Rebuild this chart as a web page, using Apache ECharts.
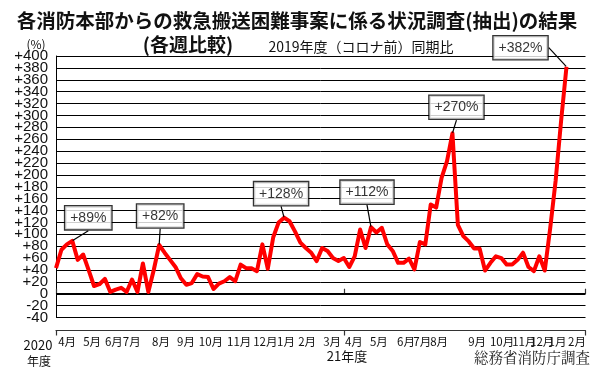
<!DOCTYPE html>
<html><head><meta charset="utf-8">
<script src="https://cdn.jsdelivr.net/npm/echarts@6/dist/echarts.min.js"></script>
<style>html,body{margin:0;padding:0;background:#fff}#c{width:600px;height:371px}</style>
</head><body><div id="c"></div>
<script>
// Weekly % change vs. same week of FY2019, from week 0 (early Apr 2020)
const weekValues = [
  43, 74, 83, 89, 57, 66, 40, 13, 16, 25,
  3, 7, 10, 3, 24, 3, 51, 3, 40, 82,
  69, 57, 45, 26, 15, 18, 33, 29, 28, 8,
  17, 21, 28, 21, 49, 43, 43, 38, 83, 42,
  95, 120, 128, 122, 105, 86, 77, 69, 55, 77,
  72, 60, 55, 60, 45, 63, 108, 77, 112, 103,
  111, 83, 72, 52, 52, 59, 41, 87, 83, 150,
  145, 195, 223, 270, 116, 97, 88, 76, 76, 39,
  52, 63, 60, 49, 49, 57, 69, 45, 38, 63,
  39, 110, 190, 290, 382
];
// annotated peaks (week indices)
const peakWeeks = [3, 19, 42, 58, 73, 94];
// month tick labels and the week at which each sits
const monthLabels = ['4月','5月','6月','7月','8月','9月','10月','11月','12月','1月','2月','3月',
                     '4月','5月','6月','7月','8月','9月','10月','11月','12月','1月','2月'];
const monthWeeks = [0.4, 5.0, 9.0, 12.3, 17.7, 22.3, 26.3, 31.5, 36.3, 40.7, 44.6, 49.2,
                    53.2, 57.8, 62.8, 65.8, 68.9, 75.9, 79.9, 84.0, 87.3, 90.7, 94.3];
const fiscalYearTicks = [0, 53, 97.5];
const yMin = -40, yMax = 400, yStep = 20;
const yLabelsA = [-40, 0, 40, 80, 120, 160, 200, 240, 280, 320, 360, 400];
const yLabelsB = [-20, 20, 60, 100, 140, 180, 220, 260, 300, 340, 380];
const xMax = 97.5;

// label box offsets (style)
const labelOffsets = [[16,-23],[1,-29],[-3,-24],[-4,-35],[4,-26],[-46,-19]];

const chart = echarts.init(document.getElementById('c'), null, {renderer:'canvas'});
const jp = '"Noto Sans CJK JP", sans-serif';
const num = '"Liberation Sans", Arial, sans-serif';
const yFmt = v => v > 0 ? '+' + v : String(v);
const yLabelStyle = {fontSize: 15, fontFamily: num, color: '#111', margin: 8, formatter: yFmt,
                     showMinLabel: true, showMaxLabel: true, hideOverlap: false};

chart.setOption({
  backgroundColor: '#fff',
  animation: false,
  grid: {left: 56, right: 14.5, top: 56, bottom: 53.5},
  xAxis: [{
    type: 'value', min: 0, max: xMax, position: 'bottom', offset: 13,
    axisLine: {show: true, onZero: false, lineStyle: {color: '#333', width: 1.2}},
    axisTick: {show: true, customValues: fiscalYearTicks, length: 5, lineStyle: {color: '#333', width: 1.2}},
    axisLabel: {
      show: true, customValues: monthWeeks, align: 'left', margin: 5,
      showMinLabel: true, showMaxLabel: true, hideOverlap: false,
      fontSize: 11.5, color: '#111', fontFamily: jp,
      formatter: v => { const k = monthWeeks.indexOf(v); return k >= 0 ? monthLabels[k] : ''; }
    },
    splitLine: {show: false}
  }, {
    type: 'value', min: 0, max: xMax, position: 'bottom', offset: 13,
    axisLine: {show: false},
    axisTick: {show: true, inside: true, customValues: fiscalYearTicks, length: 5, lineStyle: {color: '#333', width: 1.2}},
    axisLabel: {show: false}, splitLine: {show: false}
  }],
  yAxis: [{
    type: 'value', min: yMin, max: yMax, interval: yStep, position: 'left',
    axisLine: {show: true, onZero: false, lineStyle: {color: '#000', width: 1}},
    axisTick: {show: false},
    axisLabel: Object.assign({customValues: yLabelsA}, yLabelStyle),
    splitLine: {show: true, lineStyle: {color: '#000', width: 1}}
  }, {
    type: 'value', min: yMin, max: yMax, interval: yStep, position: 'left',
    axisLine: {show: false}, axisTick: {show: false},
    axisLabel: Object.assign({customValues: yLabelsB}, yLabelStyle),
    splitLine: {show: false}
  }],
  series: [{
    type: 'line',
    data: weekValues.map((v, i) => [i, v]),
    symbol: 'none',
    lineStyle: {color: '#f00', width: 4, join: 'round'},
    z: 3,
    markLine: {
      silent: true, symbol: 'none', label: {show: false},
      lineStyle: {color: '#000', width: 2, type: 'solid'},
      data: [{yAxis: 0}],
      z: 2
    }
  }, {
    type: 'scatter',
    data: peakWeeks.map(w => [w, weekValues[w]]),
    symbolSize: 1,
    itemStyle: {color: 'rgba(0,0,0,0)'},
    z: 6,
    label: {
      show: true, position: 'inside',
      formatter: p => '+' + p.value[1] + '%',
      fontFamily: num, fontSize: 14, color: '#000',
      backgroundColor: '#fff', borderColor: '#000', borderWidth: 1.3,
      padding: [4, 5, 3, 5], lineHeight: 16
    },
    labelLayout: p => ({dx: labelOffsets[p.dataIndex][0], dy: labelOffsets[p.dataIndex][1]}),
    labelLine: {show: true, lineStyle: {color: '#000', width: 1.2, opacity: 1}}
  }],
  graphic: [
    {type: 'text', x: 297, y: 21, style: {text: '各消防本部からの救急搬送困難事案に係る状況調査(抽出)の結果', font: 'bold 19.5px ' + jp, fill: '#111', textAlign: 'center', textVerticalAlign: 'middle'}},
    {type: 'text', x: 188, y: 45, style: {text: '(各週比較)', font: 'bold 19px ' + jp, fill: '#111', textAlign: 'center', textVerticalAlign: 'middle'}},
    {type: 'text', x: 361, y: 47, style: {text: '2019年度（コロナ前）同期比', font: '14px ' + jp, fill: '#111', textAlign: 'center', textVerticalAlign: 'middle'}},
    {type: 'text', x: 36, y: 44, style: {text: '(%)', font: '12px ' + jp, fill: '#111', textAlign: 'center', textVerticalAlign: 'middle'}},
    {type: 'text', x: 38, y: 345, style: {text: '2020', font: '13px ' + jp, fill: '#111', textAlign: 'center', textVerticalAlign: 'middle'}},
    {type: 'text', x: 39, y: 361, style: {text: '年度', font: '12px ' + jp, fill: '#111', textAlign: 'center', textVerticalAlign: 'middle'}},
    {type: 'text', x: 347, y: 356, style: {text: '21年度', font: '13px ' + jp, fill: '#111', textAlign: 'center', textVerticalAlign: 'middle'}},
    {type: 'text', x: 590, y: 357, style: {text: '総務省消防庁調査', font: '14.5px "Noto Serif CJK JP", ' + jp, fill: '#222', textAlign: 'right', textVerticalAlign: 'middle'}}
  ]
});
</script></body></html>
